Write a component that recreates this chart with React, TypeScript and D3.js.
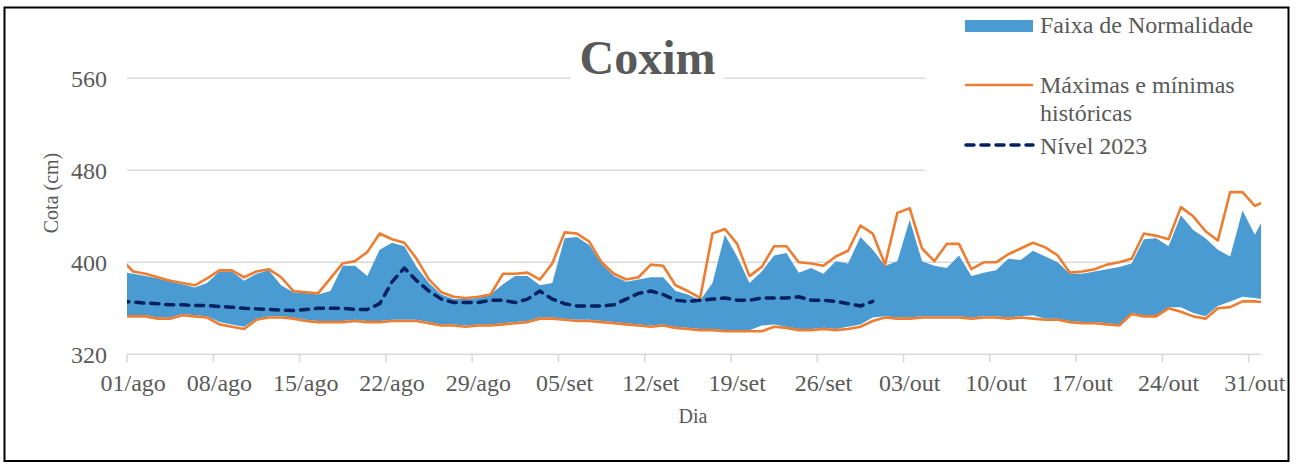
import React from "react";
import * as d3 from "d3";

// Series index 0 = 31/jul, 1 = 01/ago ... 92 = 31/out, 93 = 01/nov
const maxima = [403, 392, 390, 387, 384, 382, 380, 386, 393, 393, 387, 392, 394, 387, 375, 374, 373, 386, 399, 401, 409, 425, 420, 417, 403, 385, 374, 370, 369, 370, 372, 390, 390, 391, 385, 399, 426, 425, 418, 400, 390, 385, 387, 398, 397, 380, 375, 369, 425, 429, 416, 388, 396, 414, 414, 400, 399, 397, 405, 410, 432, 425, 398, 443, 447, 412, 401, 416, 416, 394, 400, 400, 407, 412, 417, 413, 406, 391, 392, 394, 398, 400, 403, 425, 423, 420, 448, 440, 427, 419, 461, 461, 449, 454];

const faixaSup = [392, 390, 388, 386, 383, 381, 378, 382, 392, 392, 384, 390, 393, 380, 374, 373, 372, 375, 397, 397, 388, 411, 417, 414, 396, 382, 372, 368, 368, 369, 372, 381, 388, 388, 380, 382, 421, 422, 415, 399, 388, 383, 385, 387, 387, 375, 372, 367, 382, 424, 405, 382, 392, 406, 408, 391, 395, 390, 401, 399, 422, 411, 397, 401, 437, 401, 397, 395, 406, 388, 391, 393, 403, 402, 410, 405, 400, 390, 390, 392, 394, 396, 399, 420, 421, 414, 441, 428, 421, 411, 405, 445, 424, 444];

const faixaInf = [354, 354, 354, 352, 352, 355, 354, 353, 348, 346, 344, 351, 353, 353, 352, 350, 349, 349, 349, 350, 349, 349, 350, 350, 350, 348, 346, 346, 345, 346, 346, 347, 348, 349, 352, 352, 351, 350, 350, 349, 348, 347, 346, 345, 346, 344, 343, 342, 342, 341, 341, 341, 345, 346, 344, 342, 342, 343, 342, 344, 346, 352, 353, 352, 352, 353, 353, 353, 353, 352, 353, 353, 352, 353, 354, 351, 351, 349, 348, 348, 347, 346, 356, 354, 354, 361, 361, 356, 353, 362, 366, 370, 369, 367];

const minima = [353, 353, 353, 351, 351, 354, 353, 352, 346, 344, 342, 350, 352, 352, 351, 349, 348, 348, 348, 349, 348, 348, 349, 349, 349, 347, 345, 345, 344, 345, 345, 346, 347, 348, 351, 351, 350, 349, 349, 348, 347, 346, 345, 344, 345, 343, 342, 341, 341, 340, 340, 340, 340, 344, 343, 341, 341, 342, 341, 342, 344, 349, 352, 351, 351, 352, 352, 352, 352, 351, 352, 352, 351, 352, 351, 350, 350, 348, 347, 347, 346, 345, 355, 353, 353, 360, 357, 353, 351, 360, 361, 366, 366, 365];

const nivel2023: (number | null)[] = [366, 365.5, 364.5, 364, 363, 363, 362.5, 362.5, 361.5, 361, 360, 359.5, 359, 358.5, 358, 359, 360, 360, 360, 359, 359, 364, 383, 395, 384, 375, 368, 365, 365, 365, 367, 367, 365, 368, 375, 368, 364, 362, 362, 362, 363, 368, 373, 375, 372, 367, 366, 367, 368, 369, 367, 367, 369, 369, 369, 370, 367, 367, 366, 364, 362, 366];

const tickLabels = ["01/ago", "08/ago", "15/ago", "22/ago", "29/ago", "05/set", "12/set", "19/set", "26/set", "03/out", "10/out", "17/out", "24/out", "31/out"];
const yTicks = [320, 400, 480, 560];

const FONT = "'Liberation Serif', 'Times New Roman', serif";
const GRAY = "#595959";
const GRID = "#d9d9d9";
const BLUE = "#4b9bd3";
const ORANGE = "#ed7d31";
const NAVY = "#002060";

export default function App() {
  const W = 1297, H = 466;
  const left = 127, right = 1261, top = 32.3, bottom = 354.3;
  const x = d3.scaleLinear().domain([0.5, 92.5]).range([left, right]);
  const y = d3.scaleLinear().domain([320, 600]).range([bottom, top]);

  const idx = d3.range(maxima.length);
  const area = d3.area<number>().x((i) => x(i)).y0((i) => y(faixaInf[i])).y1((i) => y(faixaSup[i]));
  const lineOf = (arr: (number | null)[]) =>
    d3.line<number>().defined((i) => arr[i] != null).x((i) => x(i)).y((i) => y(arr[i] as number))(idx.filter((i) => i < arr.length)) || "";

  return (
    <svg width={W} height={H} style={{ position: "absolute", left: 0, top: 0, display: "block", background: "#fff" }}>
      <defs>
        <clipPath id="plotclip">
          <rect x={left} y={top} width={right - left} height={bottom - top + 2} />
        </clipPath>
      </defs>
      <rect x={0} y={0} width={W} height={H} fill="#fff" />
      {yTicks.filter((t) => t !== 320).map((t) => (
        <line key={t} x1={left} x2={right} y1={y(t)} y2={y(t)} stroke={GRID} strokeWidth={1.6} />
      ))}
      <g clipPath="url(#plotclip)">
        <path d={area(idx) || ""} fill={BLUE} />
        <path d={lineOf(maxima)} fill="none" stroke={ORANGE} strokeWidth={2.6} strokeLinejoin="round" />
        <path d={lineOf(minima)} fill="none" stroke={ORANGE} strokeWidth={2.6} strokeLinejoin="round" />
        <path d={lineOf(nivel2023)} fill="none" stroke={NAVY} strokeWidth={3.5} strokeDasharray="8 7" strokeLinecap="round" strokeLinejoin="round" />
      </g>
      {/* x axis */}
      <line x1={left} x2={right} y1={bottom} y2={bottom} stroke={GRID} strokeWidth={1.6} />
      {tickLabels.map((lab, k) => (
        <g key={lab}>
          <line x1={x(0.5 + 7 * k)} x2={x(0.5 + 7 * k)} y1={bottom} y2={bottom + 8} stroke={GRID} strokeWidth={1.6} />
          <text x={x(1 + 7 * k)} y={391} textAnchor="middle" fontFamily={FONT} fontSize={24} fill={GRAY}>{lab}</text>
        </g>
      ))}
      {yTicks.map((t) => (
        <text key={t} x={107} y={y(t) + 8.5} textAnchor="end" fontFamily={FONT} fontSize={24} fill={GRAY}>{t}</text>
      ))}
      <text x={693} y={423} textAnchor="middle" fontFamily={FONT} fontSize={20} fill={GRAY}>Dia</text>
      <text transform="translate(58,193) rotate(-90)" textAnchor="middle" fontFamily={FONT} fontSize={20} fill={GRAY}>Cota (cm)</text>
      {/* title */}
      <rect x={571} y={34} width={153} height={52} fill="#fff" />
      <text x={647.5} y={73.5} textAnchor="middle" fontFamily={FONT} fontSize={48} fontWeight="bold" fill={GRAY}>Coxim</text>
      {/* legend */}
      <rect x={925} y={9} width={362} height={172} fill="#fff" />
      <rect x={965} y={20} width={68} height={12} fill={BLUE} />
      <text x={1040} y={33} fontFamily={FONT} fontSize={24} fill={GRAY}>Faixa de Normalidade</text>
      <line x1={965} x2={1033} y1={85} y2={85} stroke={ORANGE} strokeWidth={2.6} />
      <text x={1040} y={93} fontFamily={FONT} fontSize={24} fill={GRAY}>Máximas e mínimas</text>
      <text x={1040} y={120.5} fontFamily={FONT} fontSize={24} fill={GRAY}>históricas</text>
      <line x1={966} x2={1033} y1={145} y2={145} stroke={NAVY} strokeWidth={3.5} strokeDasharray="8 7" strokeLinecap="round" />
      <text x={1040} y={154} fontFamily={FONT} fontSize={24} fill={GRAY}>Nível 2023</text>
      {/* border */}
      <rect x={4.5} y={7.5} width={1284} height={453.5} fill="none" stroke="#000" strokeWidth={2} />
    </svg>
  );
}
